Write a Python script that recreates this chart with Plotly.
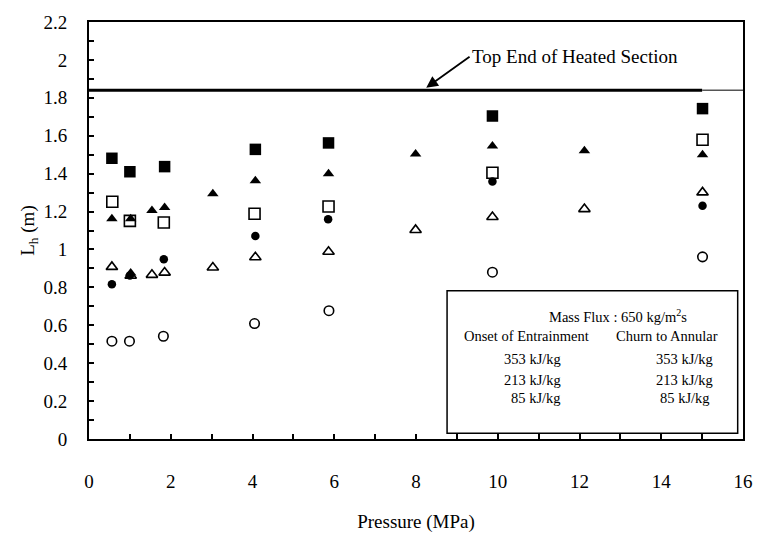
import plotly.graph_objects as go

# Pressure (MPa) and heated length L_h (m) for each symbol series
p_sq_filled = [0.56, 1.00, 1.85, 4.07, 5.86, 9.87, 15.01]
l_sq_filled = [1.481, 1.410, 1.437, 1.528, 1.562, 1.704, 1.743]

p_sq_open = [0.57, 1.00, 1.83, 4.05, 5.86, 9.87, 15.01]
l_sq_open = [1.252, 1.151, 1.142, 1.188, 1.227, 1.405, 1.579]

p_tri_filled = [0.56, 1.02, 1.02, 1.54, 1.85, 3.03, 4.07, 5.86, 7.99, 9.87, 12.12, 15.01]
l_tri_filled = [1.162, 1.162, 0.876, 1.205, 1.221, 1.294, 1.362, 1.399, 1.504, 1.546, 1.521, 1.500]

p_tri_open = [0.56, 1.02, 1.54, 1.85, 3.03, 4.07, 5.86, 7.99, 9.87, 12.12, 15.01]
l_tri_open = [0.908, 0.861, 0.866, 0.878, 0.905, 0.959, 0.988, 1.103, 1.171, 1.213, 1.301]

p_circ_filled = [0.56, 1.00, 1.83, 4.07, 5.85, 9.87, 15.01]
l_circ_filled = [0.817, 0.862, 0.948, 1.071, 1.159, 1.359, 1.230]

p_circ_open = [0.56, 0.99, 1.82, 4.05, 5.87, 9.87, 15.01]
l_circ_open = [0.516, 0.516, 0.542, 0.609, 0.677, 0.880, 0.961]

heated_top = 1.84  # top end of heated section (m)

x_ticks = [0, 2, 4, 6, 8, 10, 12, 14, 16]
y_ticks = [0, 0.2, 0.4, 0.6, 0.8, 1, 1.2, 1.4, 1.6, 1.8, 2, 2.2]
y_tick_text = ["0", "0.2", "0.4", "0.6", "0.8", "1", "1.2", "1.4", "1.6", "1.8", "2", "2.2"]

mass_flux_label = "Mass Flux : 650 kg/m<sup>2</sup>s"
col_headers = ["Onset of Entrainment", "Churn to Annular"]
enthalpy_labels = ["353 kJ/kg", "213 kJ/kg", "85 kJ/kg"]

FONT = "Liberation Serif, Times New Roman, serif"

fig = go.Figure()

# heated-section limit line
fig.add_trace(go.Scatter(x=[0, 15], y=[heated_top, heated_top], mode="lines",
                         line=dict(color="black", width=3), hoverinfo="skip",
                         showlegend=False))
fig.add_trace(go.Scatter(x=[15, 16], y=[heated_top, heated_top], mode="lines",
                         line=dict(color="#555555", width=1.3), hoverinfo="skip",
                         showlegend=False))

series = [
    (p_sq_open, l_sq_open, "square-open", 11, 1.6),
    (p_tri_open, l_tri_open, "triangle-up-open", 10, 1.6),
    (p_circ_open, l_circ_open, "circle-open", 9.5, 1.6),
    (p_sq_filled, l_sq_filled, "square", 11.5, 0),
    (p_tri_filled, l_tri_filled, "triangle-up", 10, 0),
    (p_circ_filled, l_circ_filled, "circle", 8.5, 0),
]
for xs, ys, sym, size, lw in series:
    fig.add_trace(go.Scatter(
        x=xs, y=ys, mode="markers", showlegend=False,
        marker=dict(symbol=sym, size=size, color="black",
                    line=dict(color="black", width=lw)),
    ))

# key box
fig.add_shape(type="rect", xref="x", yref="y", x0=8.76, x1=15.87, y0=0.03, y1=0.782,
              line=dict(color="black", width=1.5), fillcolor="white", layer="above")

annotations = [
    dict(x=11.2, y=0.651, text=mass_flux_label, xanchor="left"),
    dict(x=10.71, y=0.542, text=col_headers[0], xanchor="center"),
    dict(x=14.14, y=0.542, text=col_headers[1], xanchor="center"),
]
row_y = [0.420, 0.313, 0.217]
for lab, ry in zip(enthalpy_labels, row_y):
    annotations.append(dict(x=11.6, y=ry, text=lab, xanchor="right"))
    annotations.append(dict(x=14.57, y=ry, text=lab, xanchor="center"))
for a in annotations:
    a.update(xref="x", yref="y", yanchor="middle", showarrow=False,
             font=dict(family=FONT, size=14.5, color="black"))

# label with arrow pointing at the heated-section line
annotations.append(dict(
    x=8.25, y=1.853, xref="x", yref="y", ax=9.31, ay=2.017, axref="x", ayref="y",
    text="Top End of Heated Section", xanchor="left", yanchor="middle",
    showarrow=True, arrowhead=2, arrowsize=1.3, arrowwidth=1.8, arrowcolor="black",
    font=dict(family=FONT, size=19, color="black"),
))

fig.update_layout(
    width=765, height=541,
    margin=dict(l=89, r=12, t=12, b=96),
    paper_bgcolor="white", plot_bgcolor="white",
    font=dict(family=FONT, size=19, color="black"),
    annotations=annotations,
    xaxis=dict(
        range=[0, 16], tickvals=x_ticks, showgrid=False, zeroline=False,
        showline=True, linecolor="black", linewidth=2, mirror=True,
        ticks="inside", ticklen=5, tickwidth=1.5, tickcolor="black",
        minor=dict(dtick=1, ticks="inside", ticklen=5, tickwidth=1.5, tickcolor="black"),
        ticklabelstandoff=24,
        title=dict(text="Pressure (MPa)", font=dict(family=FONT, size=19), standoff=24),
    ),
    yaxis=dict(
        range=[0, 2.2], tickvals=y_ticks, ticktext=y_tick_text, showgrid=False,
        zeroline=False, showline=True, linecolor="black", linewidth=2, mirror=True,
        ticks="inside", ticklen=5, tickwidth=1.5, tickcolor="black",
        minor=dict(dtick=0.1, ticks="inside", ticklen=5, tickwidth=1.5, tickcolor="black"),
        ticklabelstandoff=16,
        title=dict(text="L<sub>h</sub> (m)", font=dict(family=FONT, size=19), standoff=4),
    ),
)

fig.write_html("out.html")
